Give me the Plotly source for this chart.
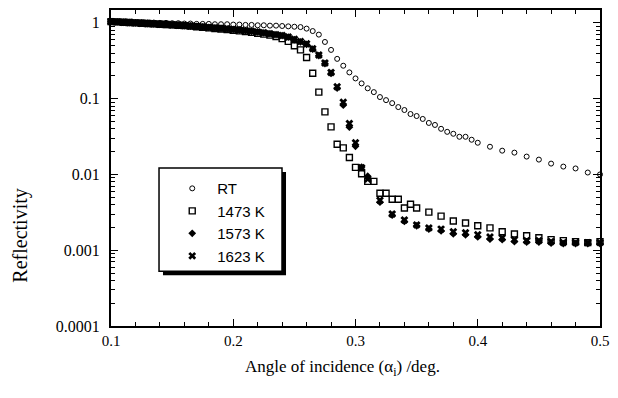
import plotly.graph_objects as go

# ---------------- data ----------------
rt_angle = [0.100, 0.105, 0.110, 0.115, 0.120, 0.125, 0.130, 0.135, 0.140, 0.145,
            0.150, 0.155, 0.160, 0.165, 0.170, 0.175, 0.180, 0.185, 0.190, 0.195,
            0.200, 0.205, 0.210, 0.215, 0.220, 0.225, 0.230, 0.235, 0.240, 0.245,
            0.250, 0.255, 0.260, 0.265, 0.270, 0.275, 0.280, 0.285, 0.290, 0.295,
            0.300, 0.305, 0.310, 0.315, 0.320, 0.325, 0.330, 0.335, 0.340, 0.345,
            0.350, 0.355, 0.360, 0.365, 0.370, 0.375, 0.380, 0.385, 0.390, 0.395,
            0.400, 0.41, 0.42, 0.43, 0.44, 0.45, 0.46, 0.47, 0.48, 0.49, 0.50]
rt_refl = [1.05, 1.04, 1.03, 1.03, 1.02, 1.02, 1.01, 1.01, 1.00, 1.00,
           0.99, 0.99, 0.98, 0.98, 0.97, 0.97, 0.97, 0.96, 0.96, 0.96,
           0.95, 0.95, 0.94, 0.94, 0.93, 0.93, 0.92, 0.92, 0.91, 0.90,
           0.89, 0.88, 0.84, 0.78, 0.70, 0.56, 0.44, 0.335, 0.272, 0.222,
           0.185, 0.159, 0.137, 0.122, 0.105, 0.0956, 0.0873, 0.0774, 0.0708, 0.0627,
           0.059, 0.054, 0.0478, 0.045, 0.040, 0.0365, 0.0344, 0.0314, 0.0314, 0.0287,
           0.0262, 0.0232, 0.0206, 0.0194, 0.0172, 0.0157, 0.0139, 0.0127, 0.0120, 0.0106, 0.0100]

k1473_angle = [0.100, 0.105, 0.110, 0.115, 0.120, 0.125, 0.130, 0.135, 0.140, 0.145,
               0.150, 0.155, 0.160, 0.165, 0.170, 0.175, 0.180, 0.185, 0.190, 0.195,
               0.200, 0.205, 0.210, 0.215, 0.220, 0.225, 0.230, 0.235, 0.240, 0.245,
               0.250, 0.255, 0.260, 0.265, 0.270, 0.275, 0.280, 0.285, 0.290, 0.295,
               0.300, 0.305, 0.310, 0.315, 0.320, 0.325, 0.330, 0.335, 0.340, 0.345,
               0.350, 0.36, 0.37, 0.38, 0.39, 0.40, 0.41, 0.42, 0.43, 0.44,
               0.45, 0.46, 0.47, 0.48, 0.49, 0.50]
k1473_refl = [1.04, 1.03, 1.02, 1.01, 1.00, 0.99, 0.98, 0.97, 0.96, 0.95,
              0.94, 0.93, 0.92, 0.905, 0.89, 0.875, 0.86, 0.845, 0.83, 0.815,
              0.80, 0.785, 0.77, 0.75, 0.73, 0.71, 0.69, 0.66, 0.62, 0.57,
              0.50, 0.44, 0.35, 0.216, 0.122, 0.067, 0.0424, 0.025, 0.0224, 0.0167,
              0.0124, 0.0102, 0.0081, 0.0081, 0.00565, 0.00565, 0.00471, 0.00471, 0.0036, 0.00405,
              0.0036, 0.00318, 0.00282, 0.00243, 0.00229, 0.0021, 0.00197, 0.00175, 0.00164, 0.00155,
              0.00146, 0.00138, 0.00134, 0.0013, 0.00126, 0.0013]

hot_angle = [0.100, 0.105, 0.110, 0.115, 0.120, 0.125, 0.130, 0.135, 0.140, 0.145,
             0.150, 0.155, 0.160, 0.165, 0.170, 0.175, 0.180, 0.185, 0.190, 0.195,
             0.200, 0.205, 0.210, 0.215, 0.220, 0.225, 0.230, 0.235, 0.240, 0.245,
             0.250, 0.255, 0.260, 0.265, 0.270, 0.275, 0.280, 0.285, 0.290, 0.295,
             0.300, 0.305, 0.31, 0.32, 0.33, 0.34, 0.35, 0.36, 0.37, 0.38,
             0.39, 0.40, 0.41, 0.42, 0.43, 0.44, 0.45, 0.46, 0.47, 0.48,
             0.49, 0.50]
k1573_refl = [1.04, 1.03, 1.02, 1.01, 1.00, 0.99, 0.98, 0.97, 0.96, 0.95,
              0.94, 0.93, 0.92, 0.91, 0.90, 0.885, 0.87, 0.86, 0.85, 0.835,
              0.82, 0.805, 0.79, 0.775, 0.76, 0.74, 0.72, 0.70, 0.68, 0.65,
              0.60, 0.56, 0.52, 0.45, 0.37, 0.29, 0.215, 0.138, 0.082, 0.042,
              0.0235, 0.0125, 0.0095, 0.0043, 0.0029, 0.0024, 0.0021, 0.0019, 0.0018, 0.00165,
              0.0016, 0.0015, 0.0014, 0.00138, 0.0013, 0.00128, 0.00128, 0.00124, 0.00122, 0.00122,
              0.00122, 0.00122]
k1623_refl = [1.04, 1.03, 1.02, 1.01, 1.00, 0.99, 0.98, 0.97, 0.96, 0.95,
              0.94, 0.93, 0.92, 0.91, 0.90, 0.885, 0.87, 0.86, 0.85, 0.835,
              0.82, 0.805, 0.79, 0.775, 0.76, 0.74, 0.72, 0.70, 0.68, 0.65,
              0.61, 0.57, 0.53, 0.457, 0.376, 0.295, 0.222, 0.1435, 0.090, 0.047,
              0.0262, 0.0123, 0.0087, 0.00457, 0.0030, 0.0025, 0.00216, 0.00197, 0.0019, 0.00175,
              0.0017, 0.0016, 0.0015, 0.00146, 0.00138, 0.00134, 0.00134, 0.0013, 0.00126, 0.00126,
              0.00126, 0.00126]

series_names = ["RT", "1473 K", "1573 K", "1623 K"]
x_tick_vals = [0.1, 0.2, 0.3, 0.4, 0.5]
x_tick_text = ["0.1", "0.2", "0.3", "0.4", "0.5"]
y_tick_vals = [1, 0.1, 0.01, 0.001, 0.0001]
y_tick_text = ["1", "0.1", "0.01", "0.001", "0.0001"]

# ---------------- figure ----------------
fig = go.Figure()
fig.add_trace(go.Scatter(x=rt_angle, y=rt_refl, mode="markers", name=series_names[0],
                         cliponaxis=False,
                         marker=dict(symbol="circle-open", size=5, color="black",
                                     line=dict(width=1, color="black"))))
fig.add_trace(go.Scatter(x=k1473_angle, y=k1473_refl, mode="markers", name=series_names[1],
                         cliponaxis=False,
                         marker=dict(symbol="square-open", size=6, color="black",
                                     line=dict(width=1.4, color="black"))))
fig.add_trace(go.Scatter(x=hot_angle, y=k1573_refl, mode="markers", name=series_names[2],
                         cliponaxis=False,
                         marker=dict(symbol="diamond", size=6, color="black",
                                     line=dict(width=0))))
fig.add_trace(go.Scatter(x=hot_angle, y=k1623_refl, mode="markers", name=series_names[3],
                         cliponaxis=False,
                         marker=dict(symbol="x", size=7, color="black",
                                     line=dict(width=0))))

serif = "Liberation Serif"

# The page body has an 8px margin, so the figure is sized to fit inside it.
fig.update_layout(
    width=610, height=390,
    margin=dict(l=103, r=18, t=0, b=72),
    paper_bgcolor="white", plot_bgcolor="white",
    font=dict(family=serif, color="black", size=15),
    showlegend=True,
    legend=dict(x=0.115, y=0.487, xanchor="left", yanchor="top",
                bgcolor="rgba(0,0,0,0)", borderwidth=0,
                font=dict(family="Liberation Sans", size=15, color="black"),
                itemwidth=40, tracegroupgap=0),
    xaxis=dict(range=[0.1, 0.5], tickvals=x_tick_vals, ticktext=x_tick_text,
               ticks="inside", ticklen=7, tickwidth=1.2, tickcolor="black",
               showline=True, linewidth=2, linecolor="black", mirror="allticks",
               showgrid=False, zeroline=False,
               tickfont=dict(family=serif, size=15),
               minor=dict(dtick=0.02, ticks="inside", ticklen=4, tickwidth=1,
                          tickcolor="black", showgrid=False)),
    yaxis=dict(type="log", range=[-4, 0.17], tickvals=y_tick_vals, ticktext=y_tick_text,
               ticks="inside", ticklen=7, tickwidth=1.2, tickcolor="black",
               showline=True, linewidth=2, linecolor="black", mirror="allticks",
               showgrid=False, zeroline=False, ticklabelstandoff=6,
               tickfont=dict(family=serif, size=16),
               minor=dict(dtick="D1", ticks="inside", ticklen=4, tickwidth=1,
                          tickcolor="black", showgrid=False)),
    shapes=[
        dict(type="rect", xref="paper", yref="paper",
             x0=0.1063, x1=0.3579, y0=0.1604, y1=0.4874,
             fillcolor="black", line=dict(width=0), layer="above"),
        dict(type="rect", xref="paper", yref="paper",
             x0=0.0982, x1=0.3497, y0=0.173, y1=0.5,
             fillcolor="white", line=dict(width=1.5, color="black"), layer="above"),
    ],
    annotations=[
        dict(text="Reflectivity", xref="paper", yref="paper", x=-0.184, y=0.286,
             xanchor="center", yanchor="middle", textangle=-90, showarrow=False,
             font=dict(family=serif, size=20)),
        dict(text="Angle of incidence (α<sub>i</sub>) /deg.", xref="paper", yref="paper",
             x=0.474, y=-0.132, xanchor="center", yanchor="middle", showarrow=False,
             font=dict(family=serif, size=17)),
    ],
)

fig.write_html("out.html")
